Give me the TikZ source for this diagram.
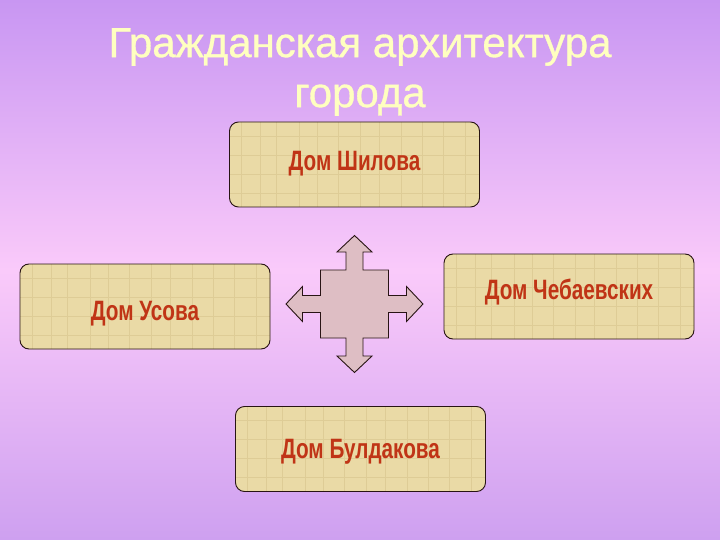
\documentclass[tikz,border=0pt]{standalone}
\usepackage{fontspec}
\setmainfont{Liberation Sans}
\newfontfamily\housefont{Liberation Sans Bold}[FakeStretch=0.74]
\usetikzlibrary{positioning}
\definecolor{bgtop}{RGB}{200,150,242}
\definecolor{bgmid}{RGB}{250,202,250}
\definecolor{bgbot}{RGB}{206,160,240}
\definecolor{boxfill}{RGB}{234,218,166}
\definecolor{boxgrain}{RGB}{222,204,150}
\definecolor{boxline}{RGB}{40,20,20}
\definecolor{housered}{RGB}{192,52,22}
\definecolor{titleyellow}{RGB}{255,255,192}
\definecolor{crossfill}{RGB}{222,190,196}

\begin{document}
\begin{tikzpicture}[x=1pt,y=-1pt,
    housebox/.style={draw=boxline,line width=0.9pt,fill=boxfill,rounded corners=9pt,
        minimum width=250pt,minimum height=85pt,inner sep=0pt,
        path picture={\foreach \g in {12,31,47,70,88,109,131,150,172,193,214,236}
            \draw[boxgrain,line width=0.7pt] ([xshift=\g pt]path picture bounding box.south west) -- +(0,-85);
            \foreach \g in {14,33,52,71}
            \draw[boxgrain,line width=0.7pt] ([yshift=\g pt]path picture bounding box.south west) -- +(250,0);}},
    housetext/.style={font=\housefont\fontsize{28}{30}\selectfont,text=housered},
    titletext/.style={font=\fontsize{42}{50}\selectfont\addfontfeature{FakeBold=0.8},align=center}]
    \shade[top color=bgtop,bottom color=bgbot,middle color=bgmid] (0,0) rectangle (720,540);
    \useasboundingbox (0,0) rectangle (720,540);
    % title
    \node[titletext,text=titleyellow] (title) at (360,72) {Гражданская архитектура\\города};
    % the four houses
    \node[housebox] (shilov) at (354.5,164.5) {};
    \node[housebox] (usov) at (145,306.5) {};
    \node[housebox] (chebaev) at (569,296.5) {};
    \node[housebox] (buldakov) at (360.5,449) {};
    \node[housetext] at ([yshift=1pt]shilov.center) {Дом Шилова};
    \node[housetext] at ([yshift=-7pt]usov.center) {Дом Усова};
    \node[housetext] at ([yshift=4pt]chebaev.center) {Дом Чебаевских};
    \node[housetext] at ([yshift=-3pt]buldakov.center) {Дом Булдакова};
    % the cross between them
    \begin{scope}[shift={(354.5,304)}]
        \draw[fill=crossfill,draw=boxline,line width=0.9pt] (-34,-34) -- (-8.5,-34) -- (-8.5,-52) -- (-17.5,-52) -- (0,-68.5) -- (17.5,-52) -- (8.5,-52) -- (8.5,-34) -- (34,-34) -- (34,-8.5) -- (52,-8.5) -- (52,-17.5) -- (68.5,0) -- (52,17.5) -- (52,8.5) -- (34,8.5) -- (34,34) -- (8.5,34) -- (8.5,52) -- (17.5,52) -- (0,68.5) -- (-17.5,52) -- (-8.5,52) -- (-8.5,34) -- (-34,34) -- (-34,8.5) -- (-52,8.5) -- (-52,17.5) -- (-68.5,0) -- (-52,-17.5) -- (-52,-8.5) -- (-34,-8.5) -- cycle;
    \end{scope}
\end{tikzpicture}
\end{document}
